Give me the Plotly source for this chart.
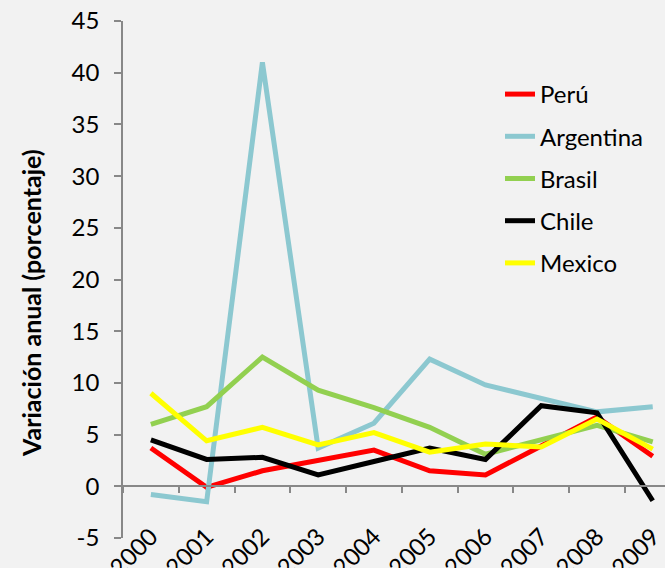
import plotly.graph_objects as go

years = ["2000", "2001", "2002", "2003", "2004", "2005", "2006", "2007", "2008", "2009"]
peru = [3.7, -0.1, 1.5, 2.5, 3.5, 1.5, 1.1, 3.9, 6.7, 2.9]
argentina = [-0.8, -1.5, 41.0, 3.7, 6.1, 12.3, 9.8, 8.5, 7.2, 7.7]
brasil = [6.0, 7.7, 12.5, 9.3, 7.6, 5.7, 3.1, 4.5, 5.9, 4.3]
chile = [4.5, 2.6, 2.8, 1.1, 2.4, 3.7, 2.6, 7.8, 7.1, -1.4]
mexico = [9.0, 4.4, 5.7, 4.0, 5.2, 3.3, 4.1, 3.8, 6.5, 3.6]
y_tickvals = [-5, 0, 5, 10, 15, 20, 25, 30, 35, 40, 45]
y_ticktext = ["-5", "0", "5", "10", "15", "20", "25", "30", "35", "40", "45"]

series = [
    ("Perú", peru, "#FF0000"),
    ("Argentina", argentina, "#8CC8D0"),
    ("Brasil", brasil, "#92D050"),
    ("Chile", chile, "#000000"),
    ("Mexico", mexico, "#FFFF00"),
]

FONT = "Lato"
AXC = "#888888"
FS = 24

fig = go.Figure()
for i, (name, vals, col) in enumerate(series):
    fig.add_trace(go.Scatter(
        x=years, y=vals, name=name, mode="lines",
        line=dict(color=col, width=5),
        legendgroup=f"g{i}",
    ))

W, H = 665, 568
L, R, T, B = 123, 0, 21, 30
pw, ph = W - L - R, H - T - B
xr = [-0.5, 9.22]

fig.update_layout(
    width=W, height=H,
    margin=dict(l=L, r=R, t=T, b=B, autoexpand=False),
    paper_bgcolor="#F2F2F2", plot_bgcolor="#F2F2F2",
    font=dict(family=FONT, size=FS, color="#000000"),
    showlegend=True,
    legend=dict(
        x=(500 - L) / pw, y=1 - (72 - T) / ph, xanchor="left", yanchor="top",
        bgcolor="rgba(0,0,0,0)", font=dict(family=FONT, size=FS),
        tracegroupgap=8, itemwidth=30,
    ),
    xaxis=dict(
        type="category", range=xr, anchor="free", position=5 / 50,
        showline=True, linecolor=AXC, linewidth=1.5, showgrid=False,
        zeroline=False, ticks="outside", tickson="boundaries", ticklen=6,
        tickcolor=AXC, tickwidth=1.5, tickangle=-45, automargin=False,
        ticklabelstandoff=26,
        tickfont=dict(family=FONT, size=FS),
    ),
    yaxis=dict(
        range=[-5, 45], tickvals=y_tickvals, ticktext=y_ticktext,
        showline=True, linecolor=AXC, linewidth=1.5,
        ticks="outside", ticklen=7, tickcolor=AXC, tickwidth=1.5,
        showgrid=False, zeroline=False, automargin=False,
        ticklabelstandoff=10,
        tickfont=dict(family=FONT, size=FS),
    ),
    annotations=[dict(
        text="<b>Variación anual (porcentaje)</b>", textangle=-90,
        xref="paper", yref="paper", x=(31 - L) / pw, y=(538 - 303) / ph,
        xanchor="center", yanchor="middle", showarrow=False,
        font=dict(family=FONT, size=25, color="#000000"),
    )],
)

fig.write_html(
    "out.html",
    config={"displayModeBar": False},
    post_script="document.body.style.margin='0';document.body.style.overflow='hidden';",
)
